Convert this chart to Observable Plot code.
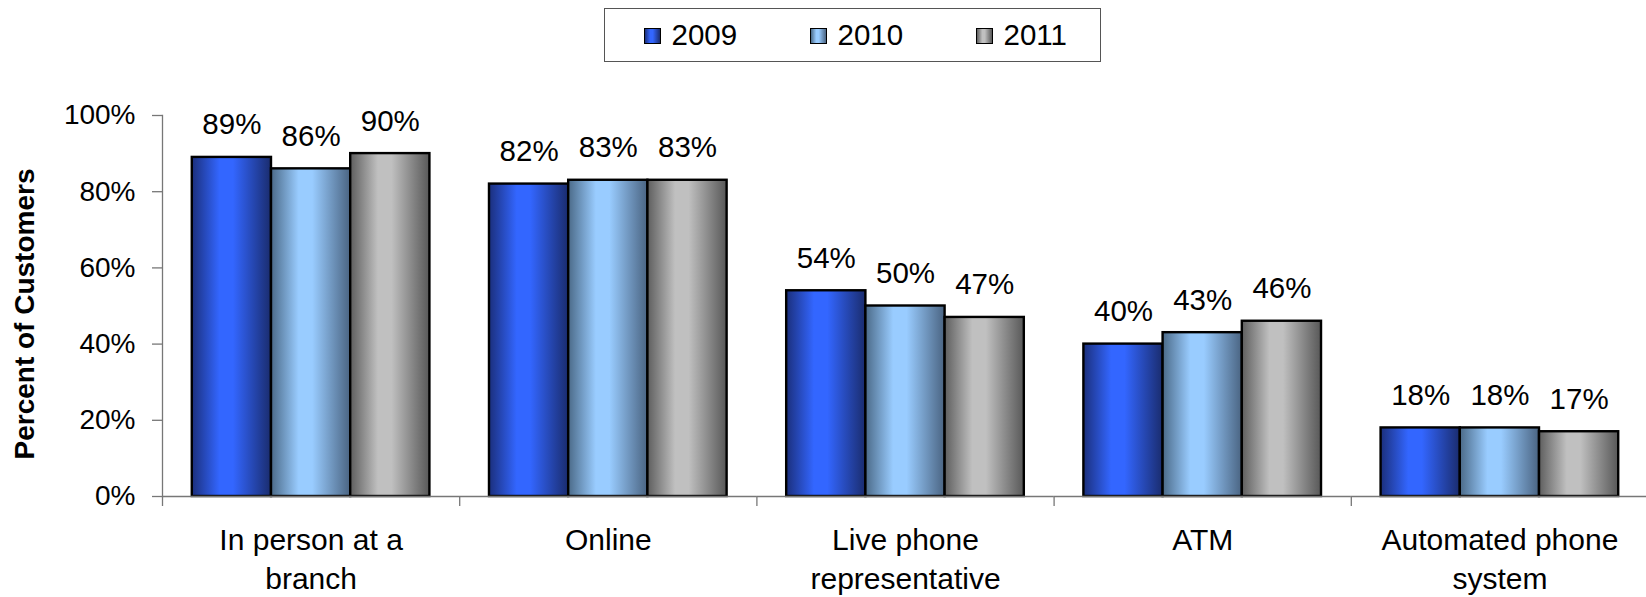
<!DOCTYPE html>
<html>
<head>
<meta charset="utf-8">
<script src="https://cdn.jsdelivr.net/npm/d3@7"></script>
<script src="https://cdn.jsdelivr.net/npm/@observablehq/plot@0.6"></script>
<style>
  html, body { margin: 0; padding: 0; background: #fff; }
  body { width: 1646px; height: 597px; overflow: hidden; font-family: "Liberation Sans", Arial, sans-serif; }
  #legend { position: relative; height: 75px; }
  #legend .box {
    position: absolute; left: 604px; top: 8px; width: 495px; height: 52px;
    border: 1.5px solid #555; background: #fff;
  }
  #legend .item { position: absolute; top: 0; height: 52px; }
  #legend .sw {
    position: absolute; top: 18.5px; left: 0; width: 15px; height: 14px;
    border: 1.5px solid #000;
  }
  #legend .lab {
    position: absolute; left: 28px; top: 11px; font-size: 29.5px; line-height: 29px;
    color: #000; white-space: nowrap;
  }
  #chart svg { display: block; }
</style>
</head>
<body>
<div id="legend"><div class="box"></div></div>
<div id="chart"></div>
<script>
// Channels customers used, surveyed in three years (percent of customers)
const categories = ["In person at a branch", "Online", "Live phone representative", "ATM", "Automated phone system"];
const categoryLabels = ["In person at a\nbranch", "Online", "Live phone\nrepresentative", "ATM", "Automated phone\nsystem"];
const years = ["2009", "2010", "2011"];
const values2009 = [89, 82, 54, 40, 18];
const values2010 = [86, 83, 50, 43, 18];
const values2011 = [90, 83, 47, 46, 17];
const yTicks = [0, 20, 40, 60, 80, 100];

// Cylinder-like shading for each series: dark edge, bright core, dark edge
const shades = {
  "2009": ["#1b2f7c", "#3366ff", "#3366ff", "#1a2c6e"],
  "2010": ["#4b6a88", "#99ccff", "#99ccff", "#4a6482"],
  "2011": ["#5e5e5e", "#c0c0c0", "#c0c0c0", "#585858"]
};
const stopOffsets = [0, 0.35, 0.52, 1];

const seriesValues = {"2009": values2009, "2010": values2010, "2011": values2011};
const rows = [];
categories.forEach((c, i) => {
  years.forEach(y => rows.push({category: c, year: y, value: seriesValues[y][i]}));
});
const labelFor = new Map(categories.map((c, i) => [c, categoryLabels[i]]));

const W = 1646, H = 522;
const mLeft = 162, mRight = -2, mTop = 40, mBottom = 101;
const groupStep = (W - mLeft - mRight) / categories.length;
const axisGray = "#777";

const svg = Plot.plot({
  width: W,
  height: H,
  marginLeft: mLeft,
  marginRight: mRight,
  marginTop: mTop,
  marginBottom: mBottom,
  style: {fontFamily: "'Liberation Sans', Arial, sans-serif", fontSize: "28px", color: "#000", background: "#fff", overflow: "visible"},
  fx: {domain: categories, paddingInner: 0, paddingOuter: 0, round: false},
  x: {domain: years, axis: null, paddingInner: 0, paddingOuter: 0.376, round: false},
  y: {domain: [0, 100], axis: null},
  color: {domain: years, range: years.map(y => `url(#shade-${y})`)},
  marks: [
    // vertical value axis line
    Plot.frame({anchor: "left", facet: "super", stroke: axisGray, strokeWidth: 1.3}),
    Plot.axisY({
      ticks: yTicks, tickFormat: d => d + "%", tickSize: 10, tickPadding: 17,
      fontSize: 28, label: null, stroke: axisGray, strokeWidth: 1.3
    }),
    // category separator ticks below the baseline
    Plot.axisFx({
      anchor: "bottom", tickSize: 10, tickFormat: () => "", dx: -groupStep / 2,
      label: null, stroke: axisGray, strokeWidth: 1.3
    }),
    // category names
    Plot.axisFx({
      anchor: "bottom", tickSize: 0, tickPadding: 26, tickFormat: d => labelFor.get(d),
      lineHeight: 1.3, fontSize: 30, label: null
    }),
    Plot.barY(rows, {
      fx: "category", x: "year", y: "value", fill: "year",
      stroke: "#000", strokeWidth: 2.4
    }),
    Plot.ruleY([0], {stroke: axisGray, strokeWidth: 1.3}),
    Plot.text(rows, {
      fx: "category", x: "year", y: "value", text: d => d.value + "%",
      lineAnchor: "bottom", dy: -23, fontSize: 29.5, fill: "#000"
    }),
    // value axis title, drawn beside the leftmost group only
    Plot.text(["Percent of Customers"], {
      frameAnchor: "left", facetAnchor: "left", textAnchor: "middle", lineAnchor: "middle",
      rotate: -90, dx: -137, dy: 8,
      fontWeight: "bold", fontSize: 28, fill: "#000"
    })
  ]
});

// gradient definitions referenced by the bar fills
const NS = "http://www.w3.org/2000/svg";
const defs = document.createElementNS(NS, "defs");
years.forEach(y => {
  const g = document.createElementNS(NS, "linearGradient");
  g.setAttribute("id", `shade-${y}`);
  g.setAttribute("x1", "0"); g.setAttribute("x2", "1");
  g.setAttribute("y1", "0"); g.setAttribute("y2", "0");
  shades[y].forEach((col, k) => {
    const s = document.createElementNS(NS, "stop");
    s.setAttribute("offset", stopOffsets[k]);
    s.setAttribute("stop-color", col);
    g.appendChild(s);
  });
  defs.appendChild(g);
});
svg.insertBefore(defs, svg.firstChild);
document.getElementById("chart").appendChild(svg);

// legend
const box = document.querySelector("#legend .box");
years.forEach((y, i) => {
  const item = document.createElement("div");
  item.className = "item";
  item.style.left = (38.5 + i * 166) + "px";
  const sw = document.createElement("div");
  sw.className = "sw";
  const c = shades[y];
  sw.style.background = `linear-gradient(to right, ${c[0]} 0%, ${c[1]} 35%, ${c[2]} 52%, ${c[3]} 100%)`;
  const lab = document.createElement("span");
  lab.className = "lab";
  lab.textContent = y;
  item.appendChild(sw);
  item.appendChild(lab);
  box.appendChild(item);
});
</script>
</body>
</html>
